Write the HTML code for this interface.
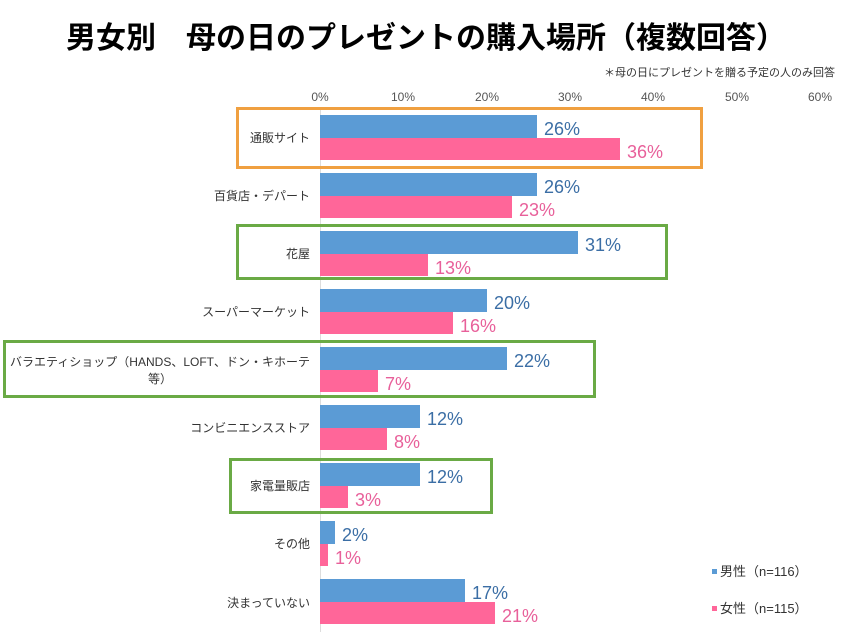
<!DOCTYPE html>
<html><head><meta charset="utf-8"><style>
body{margin:0;background:#fff}
svg{display:block;font-family:"Liberation Sans","Noto Sans CJK JP",sans-serif}
</style></head><body>
<svg width="853" height="640" xmlns="http://www.w3.org/2000/svg">
<text x="426" y="48" text-anchor="middle" font-size="30" font-weight="bold" fill="#000">男女別　母の日のプレゼントの購入場所（複数回答）</text>
<text x="835" y="76" text-anchor="end" font-size="11" fill="#333">＊母の日にプレゼントを贈る予定の人のみ回答</text>
<g font-size="12" fill="#555" text-anchor="middle">
<text x="320" y="101">0%</text><text x="403" y="101">10%</text><text x="487" y="101">20%</text><text x="570" y="101">30%</text><text x="653" y="101">40%</text><text x="737" y="101">50%</text><text x="820" y="101">60%</text>
</g>
<line x1="320.5" y1="108" x2="320.5" y2="632" stroke="#ddd"/>
<g id="bars"></g>
<g font-size="12" fill="#333" text-anchor="end">
<text x="310" y="142">通販サイト</text>
<text x="310" y="200">百貨店・デパート</text>
<text x="310" y="258">花屋</text>
<text x="310" y="316">スーパーマーケット</text>
<text x="310" y="366">バラエティショップ（HANDS、LOFT、ドン・キホーテ</text>
<text x="160" y="383" text-anchor="middle">等）</text>
<text x="310" y="432">コンビニエンスストア</text>
<text x="310" y="490">家電量販店</text>
<text x="310" y="548">その他</text>
<text x="310" y="607">決まっていない</text>
</g>
<g>
<rect x="320" y="115" width="217" height="23" fill="#5b9bd5"/><rect x="320" y="138" width="300" height="22" fill="#ff6699"/>
<rect x="320" y="173" width="217" height="23" fill="#5b9bd5"/><rect x="320" y="196" width="192" height="22" fill="#ff6699"/>
<rect x="320" y="231" width="258" height="23" fill="#5b9bd5"/><rect x="320" y="254" width="108" height="22" fill="#ff6699"/>
<rect x="320" y="289" width="167" height="23" fill="#5b9bd5"/><rect x="320" y="312" width="133" height="22" fill="#ff6699"/>
<rect x="320" y="347" width="187" height="23" fill="#5b9bd5"/><rect x="320" y="370" width="58" height="22" fill="#ff6699"/>
<rect x="320" y="405" width="100" height="23" fill="#5b9bd5"/><rect x="320" y="428" width="67" height="22" fill="#ff6699"/>
<rect x="320" y="463" width="100" height="23" fill="#5b9bd5"/><rect x="320" y="486" width="28" height="22" fill="#ff6699"/>
<rect x="320" y="521" width="15" height="23" fill="#5b9bd5"/><rect x="320" y="544" width="8" height="22" fill="#ff6699"/>
<rect x="320" y="579" width="145" height="23" fill="#5b9bd5"/><rect x="320" y="602" width="175" height="22" fill="#ff6699"/>
</g>
<g font-size="18">
<g fill="#3b6ea5">
<text x="544" y="135">26%</text><text x="544" y="193">26%</text><text x="585" y="251">31%</text><text x="494" y="309">20%</text><text x="514" y="367">22%</text><text x="427" y="425">12%</text><text x="427" y="483">12%</text><text x="342" y="541">2%</text><text x="472" y="599">17%</text>
</g>
<g fill="#e8609a">
<text x="627" y="158">36%</text><text x="519" y="216">23%</text><text x="435" y="274">13%</text><text x="460" y="332">16%</text><text x="385" y="390">7%</text><text x="394" y="448">8%</text><text x="355" y="506">3%</text><text x="335" y="564">1%</text><text x="502" y="622">21%</text>
</g>
</g>
<rect x="237.5" y="108.5" width="464" height="59" fill="none" stroke="#f0a040" stroke-width="3"/>
<rect x="237.5" y="225.5" width="429" height="53" fill="none" stroke="#6aaa45" stroke-width="3"/>
<rect x="4.5" y="341.5" width="590" height="55" fill="none" stroke="#6aaa45" stroke-width="3"/>
<rect x="230.5" y="459.5" width="261" height="53" fill="none" stroke="#6aaa45" stroke-width="3"/>
<rect x="712" y="569" width="5" height="5" fill="#5b9bd5"/>
<text x="720" y="576" font-size="13" fill="#333">男性（n=116）</text>
<rect x="712" y="606" width="5" height="5" fill="#ff6699"/>
<text x="720" y="613" font-size="13" fill="#333">女性（n=115）</text>
</svg>
</body></html>
